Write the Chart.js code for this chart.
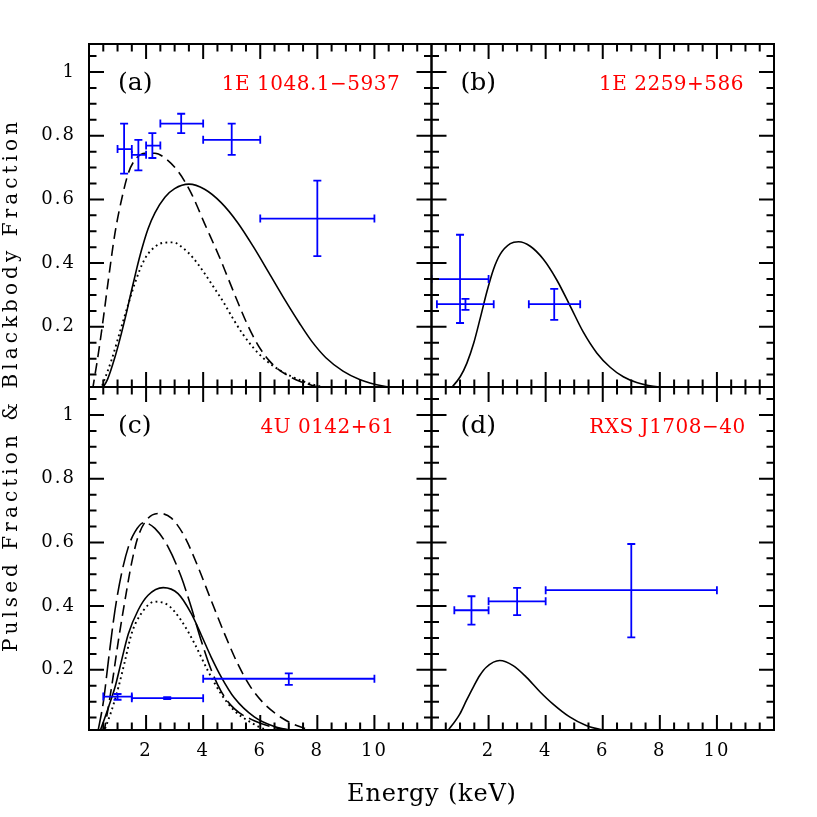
<!DOCTYPE html>
<html><head><meta charset="utf-8">
<script src="https://cdn.jsdelivr.net/npm/chart.js@4.4.1/dist/chart.umd.min.js"></script>
<style>html,body{margin:0;padding:0;background:#fff;}#wrap{position:relative;width:817px;height:817px;}</style>
</head><body><div id="wrap"><canvas id="c" width="817" height="817"></canvas></div>
<script>
// ---------- axis ranges / tick labels ----------
const X_MIN = 0, X_MAX = 12;
const Y_MIN = 0.011, Y_MAX = 1.088;
const xTickLabels = [2, 4, 6, 8, 10];
const yTickLabels = [0.2, 0.4, 0.6, 0.8, 1.0];
const panelLetters = ['(a)', '(b)', '(c)', '(d)'];
const sourceNames = ['1E 1048.1\u22125937', '1E 2259+586', '4U 0142+61', 'RXS J1708\u221240'];
const xTitle = 'Energy (keV)';
const yTitle = 'Pulsed Fraction & Blackbody Fraction';

// ---------- panel (a) 1E 1048.1-5937 ----------
const aSolidE = [0.42,0.65,0.91,1.14,1.32,1.49,1.67,1.84,2.07,2.31,2.66,3.0,3.5,4.05,4.63,5.21,5.79,6.3,6.8,7.37,7.8,8.3,8.9,9.5,10.3,11.2];
const aSolidF = [0.0,0.035,0.105,0.181,0.247,0.314,0.382,0.441,0.508,0.558,0.607,0.634,0.648,0.632,0.59,0.527,0.447,0.37,0.294,0.212,0.155,0.103,0.061,0.034,0.014,0.005];
const aDashE = [0.12,0.33,0.51,0.68,0.91,1.14,1.38,1.61,1.96,2.31,2.66,3.12,3.58,4.05,4.58,4.87,5.16,5.45,5.74,6.03,6.32,6.61,6.91,7.25,7.83,8.5];
const aDashF = [0.0,0.117,0.232,0.348,0.494,0.599,0.683,0.724,0.745,0.745,0.73,0.688,0.62,0.524,0.417,0.353,0.289,0.227,0.172,0.127,0.093,0.068,0.05,0.034,0.016,0.006];
const aDotE = [0.4,0.79,1.14,1.38,1.61,1.96,2.31,2.61,2.95,3.3,3.65,4.0,4.35,4.7,5.05,5.39,5.74,6.09,6.44,6.79,7.14,7.5,7.83,8.3];
const aDotF = [0.0,0.096,0.201,0.272,0.338,0.414,0.451,0.464,0.465,0.447,0.416,0.374,0.327,0.279,0.225,0.177,0.136,0.103,0.078,0.058,0.042,0.029,0.019,0.009];
const aE    = [1.23, 1.73, 2.22, 3.23, 5.0, 8.0];
const aELo  = [1.0, 1.5, 2.0, 2.5, 4.0, 6.0];
const aEHi  = [1.5, 2.0, 2.5, 4.0, 6.0, 10.0];
const aPF   = [0.758, 0.740, 0.769, 0.838, 0.787, 0.540];
const aPFLo = [0.681, 0.691, 0.730, 0.808, 0.740, 0.422];
const aPFHi = [0.838, 0.787, 0.808, 0.869, 0.838, 0.659];

// ---------- panel (b) 1E 2259+586 ----------
const bSolidE = [0.62,1.01,1.24,1.48,1.71,1.94,2.17,2.41,2.76,3.05,3.46,3.92,4.39,4.86,5.32,5.79,6.26,6.72,7.19,7.77,8.3];
const bSolidF = [0.0,0.044,0.086,0.149,0.228,0.31,0.38,0.428,0.461,0.467,0.453,0.412,0.347,0.265,0.183,0.118,0.073,0.043,0.025,0.013,0.008];
const bE    = [1.0, 1.19, 4.3];
const bELo  = [0.0, 0.19, 3.41];
const bEHi  = [2.0, 2.18, 5.21];
const bPF   = [0.350, 0.271, 0.271];
const bPFLo = [0.212, 0.253, 0.222];
const bPFHi = [0.489, 0.288, 0.319];

// ---------- panel (c) 4U 0142+61 ----------
const cLongE = [0.3,0.51,0.68,0.91,1.14,1.38,1.61,1.93,2.31,2.77,3.23,3.58,3.93,4.28,4.63,5.09,5.79,6.49,7.2];
const cLongF = [0.0,0.103,0.229,0.387,0.502,0.586,0.633,0.662,0.644,0.586,0.492,0.397,0.292,0.2,0.132,0.078,0.04,0.019,0.008];
const cDashE = [0.52,0.79,1.03,1.26,1.49,1.72,2.07,2.48,2.89,3.35,3.82,4.28,4.75,5.21,5.67,6.14,6.72,7.3,7.9];
const cDashF = [0.0,0.145,0.292,0.418,0.534,0.618,0.676,0.691,0.676,0.618,0.523,0.418,0.313,0.219,0.145,0.093,0.051,0.024,0.008];
const cSolidE = [0.36,0.68,0.91,1.14,1.38,1.72,2.07,2.6,3.12,3.58,3.93,4.28,4.63,5.09,5.79,6.49,7.18,7.8];
const cSolidF = [0.0,0.082,0.145,0.229,0.313,0.387,0.434,0.458,0.439,0.377,0.31,0.24,0.178,0.112,0.052,0.022,0.009,0.004];
const cDotE = [0.5,0.79,1.03,1.26,1.49,1.78,2.31,2.77,3.23,3.7,4.16,4.63,5.09,5.67,6.14,6.6];
const cDotF = [0.0,0.072,0.145,0.228,0.313,0.37,0.414,0.403,0.355,0.282,0.198,0.124,0.072,0.035,0.014,0.005];
const cE    = [1.0, 2.74, 7.0];
const cELo  = [0.5, 1.5, 4.0];
const cEHi  = [1.5, 4.0, 10.0];
const cPF   = [0.116, 0.111, 0.172];
const cPFLo = [0.106, 0.108, 0.153];
const cPFHi = [0.124, 0.114, 0.189];

// ---------- panel (d) RXS J1708-40 ----------
const dSolidE = [0.5,0.99,1.22,1.46,1.69,1.92,2.39,2.86,3.32,3.79,4.25,4.84,5.42,6.0,6.6];
const dSolidF = [0.0,0.061,0.103,0.145,0.182,0.208,0.229,0.213,0.177,0.132,0.093,0.052,0.025,0.011,0.004];
const dE    = [1.4, 3.0, 7.0];
const dELo  = [0.8, 2.0, 4.0];
const dEHi  = [2.0, 4.0, 10.0];
const dPF   = [0.387, 0.415, 0.450];
const dPFLo = [0.342, 0.372, 0.302];
const dPFHi = [0.431, 0.457, 0.595];

// ---------- helpers ----------
const pts = (xs, ys) => xs.map((x, i) => ({x: x, y: ys[i]}));
function curve(xs, ys, xID, yID, dash) {
  return {type: 'scatter', showLine: true, data: pts(xs, ys), xAxisID: xID, yAxisID: yID,
    borderColor: '#000', borderWidth: dash && dash[0] < 3 ? 1.9 : 1.6, borderDash: dash || [],
    pointRadius: 0, cubicInterpolationMode: 'monotone', fill: false};
}
function errSet(E, ELo, EHi, F, FLo, FHi, xID, yID) {
  return {type: 'scatter', data: pts(E, F), xAxisID: xID, yAxisID: yID, pointRadius: 0,
    errorBars: {xLo: ELo, xHi: EHi, yLo: FLo, yHi: FHi}, borderColor: '#0000ff'};
}
const SHORT = [11, 6], LONG = [22, 6], DOT = [1.8, 3.4];

const datasets = [
  curve(aSolidE, aSolidF, 'xL', 'yTop'),
  curve(aDashE, aDashF, 'xL', 'yTop', SHORT),
  curve(aDotE, aDotF, 'xL', 'yTop', DOT),
  errSet(aE, aELo, aEHi, aPF, aPFLo, aPFHi, 'xL', 'yTop'),
  curve(bSolidE, bSolidF, 'xR', 'yTop'),
  errSet(bE, bELo, bEHi, bPF, bPFLo, bPFHi, 'xR', 'yTop'),
  curve(cLongE, cLongF, 'xL', 'yBot', LONG),
  curve(cDashE, cDashF, 'xL', 'yBot', SHORT),
  curve(cSolidE, cSolidF, 'xL', 'yBot'),
  curve(cDotE, cDotF, 'xL', 'yBot', DOT),
  errSet(cE, cELo, cEHi, cPF, cPFLo, cPFHi, 'xL', 'yBot'),
  curve(dSolidE, dSolidF, 'xR', 'yBot'),
  errSet(dE, dELo, dEHi, dPF, dPFLo, dPFHi, 'xR', 'yBot')
];

const FONT = '"DejaVu Serif", "Liberation Serif", serif';
const panels = [
  {x: 'xL', y: 'yTop'}, {x: 'xR', y: 'yTop'}, {x: 'xL', y: 'yBot'}, {x: 'xR', y: 'yBot'}
];

function xScale() {
  return {type: 'linear', min: X_MIN, max: X_MAX, position: 'bottom', stack: 'cols', stackWeight: 1,
    grid: {display: false, drawTicks: false}, border: {display: false},
    ticks: {stepSize: 2, padding: 11, maxRotation: 0, autoSkip: false, color: '#000',
      font: {family: FONT, size: 18},
      callback: v => (xTickLabels.includes(v) ? String(v) : '')},
    afterFit: s => { s.height = 40; }};
}
function yScale() {
  return {type: 'linear', min: Y_MIN, max: Y_MAX, position: 'left', stack: 'rows', stackWeight: 1,
    grid: {display: false, drawTicks: false}, border: {display: false},
    ticks: {stepSize: 0.2, includeBounds: false, padding: 13, color: '#000', autoSkip: false,
      font: {family: FONT, size: 18},
      callback: v => {
        const m = yTickLabels.find(t => Math.abs(t - v) < 1e-6);
        if (m === undefined) return '';
        return Math.abs(m - 1) < 1e-6 ? '1' : m.toFixed(1);
      }},
    afterFit: s => { s.width = 60; }};
}

const framePlugin = {
  id: 'frames',
  beforeDraw(chart) {
    chart.ctx.letterSpacing = '2px';
  },
  afterDatasetsDraw(chart) {
    const ctx = chart.ctx;
    ctx.save();
    ctx.letterSpacing = '0px';
    // error bars
    chart.data.datasets.forEach((ds, i) => {
      if (!ds.errorBars) return;
      const meta = chart.getDatasetMeta(i);
      const xs = meta.xScale, ys = meta.yScale, eb = ds.errorBars;
      ctx.save();
      ctx.beginPath();
      ctx.rect(xs.left, ys.top, xs.right - xs.left, ys.bottom - ys.top);
      ctx.clip();
      ctx.strokeStyle = '#0000ff';
      ctx.lineWidth = 1.8;
      const cap = 4;
      ds.data.forEach((p, k) => {
        const xc = xs.getPixelForValue(p.x), yc = ys.getPixelForValue(p.y);
        const x0 = xs.getPixelForValue(eb.xLo[k]), x1 = xs.getPixelForValue(eb.xHi[k]);
        const y0 = ys.getPixelForValue(eb.yLo[k]), y1 = ys.getPixelForValue(eb.yHi[k]);
        ctx.beginPath();
        ctx.moveTo(x0, yc); ctx.lineTo(x1, yc);
        ctx.moveTo(x0, yc - cap); ctx.lineTo(x0, yc + cap);
        ctx.moveTo(x1, yc - cap); ctx.lineTo(x1, yc + cap);
        ctx.moveTo(xc, y0); ctx.lineTo(xc, y1);
        ctx.moveTo(xc - cap, y0); ctx.lineTo(xc + cap, y0);
        ctx.moveTo(xc - cap, y1); ctx.lineTo(xc + cap, y1);
        ctx.stroke();
      });
      ctx.restore();
    });
    // frames, ticks, labels
    panels.forEach((p, idx) => {
      const xs = chart.scales[p.x], ys = chart.scales[p.y];
      const L = xs.left, R = xs.right, T = ys.top, B = ys.bottom;
      ctx.strokeStyle = '#000';
      ctx.lineWidth = 2;
      ctx.beginPath();
      for (let v = 0.5; v < X_MAX - 1e-6; v += 0.5) {
        const px = xs.getPixelForValue(v);
        const len = Math.abs(v % 2) < 1e-6 ? 15 : 7.5;
        ctx.moveTo(px, B); ctx.lineTo(px, B - len);
        ctx.moveTo(px, T); ctx.lineTo(px, T + len);
      }
      for (let v = 0.05; v < Y_MAX; v += 0.05) {
        if (v < Y_MIN) continue;
        const py = ys.getPixelForValue(v);
        const major = Math.round(v * 20) % 4 === 0;
        const len = major ? 15 : 7.5;
        ctx.moveTo(L, py); ctx.lineTo(L + len, py);
        ctx.moveTo(R, py); ctx.lineTo(R - len, py);
      }
      ctx.stroke();
      ctx.strokeRect(L, T, R - L, B - T);
      // panel letter
      ctx.fillStyle = '#000';
      ctx.font = '25px ' + FONT;
      ctx.textAlign = 'left';
      ctx.textBaseline = 'alphabetic';
      ctx.fillText(panelLetters[idx], L + 29, T + 46);
      // source name
      ctx.fillStyle = '#ff0000';
      ctx.font = '20px ' + FONT;
      ctx.letterSpacing = '0.5px';
      ctx.textAlign = 'center';
      const cx = [222, 240, 238.5, 236][idx];
      ctx.fillText(sourceNames[idx], L + cx, T + 46);
      ctx.letterSpacing = '0px';
    });
    // axis titles
    const xl = chart.scales.xL, xr = chart.scales.xR, yt = chart.scales.yTop, yb = chart.scales.yBot;
    ctx.fillStyle = '#000';
    ctx.textAlign = 'center';
    ctx.textBaseline = 'alphabetic';
    ctx.font = '24px ' + FONT;
    ctx.letterSpacing = '0.8px';
    ctx.fillText(xTitle, (xl.left + xr.right) / 2 + 0.4, 801);
    ctx.save();
    ctx.translate(17, (yt.top + yb.bottom) / 2);
    ctx.rotate(-Math.PI / 2);
    ctx.font = '20px ' + FONT;
    ctx.wordSpacing = '0px';
    ctx.letterSpacing = '0px';
    const w0 = ctx.measureText(yTitle).width;
    const ls = Math.max(0, (530 - w0) / (yTitle.length - 1));
    ctx.letterSpacing = ls.toFixed(2) + 'px';
    ctx.fillText(yTitle, ls / 2, 0);
    ctx.restore();
    ctx.restore();
  }
};

new Chart(document.getElementById('c'), {
  type: 'scatter',
  data: {datasets: datasets},
  options: {
    responsive: false, animation: false, events: [],
    layout: {padding: {left: 29, top: 44, right: 43, bottom: 47}},
    plugins: {legend: {display: false}, tooltip: {enabled: false}, title: {display: false}},
    scales: {xL: xScale(), xR: xScale(), yBot: yScale(), yTop: yScale()}
  },
  plugins: [framePlugin]
});
</script></body></html>
